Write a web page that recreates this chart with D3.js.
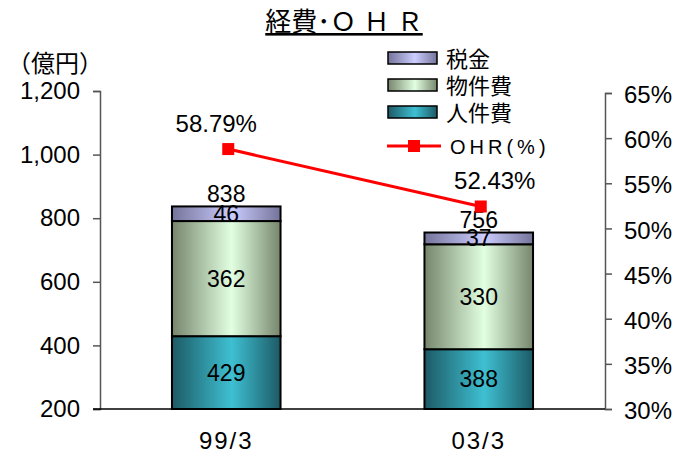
<!DOCTYPE html>
<html>
<head>
<meta charset="utf-8">
<title>経費・OHR</title>
<script src="https://cdn.jsdelivr.net/npm/d3@7"></script>
<style>
  body { margin: 0; background: #fff; }
  svg text { font-family: "Liberation Sans", Arial, "Noto Sans CJK JP", sans-serif; fill: #000; }
</style>
</head>
<body>
<div id="chart"></div>
<script>
// data
var categories = ["99/3", "03/3"];
var personnel = [429, 388];   // 人件費
var property = [362, 330];    // 物件費
var taxes = [46, 37];         // 税金
var totals = [838, 756];
var ohr = [58.79, 52.43];     // OHR(%)
var leftTicks = [200, 400, 600, 800, 1000, 1200];
var rightTicks = [30, 35, 40, 45, 50, 55, 60, 65];

var width = 685, height = 463;
var margin = {left: 100, right: 80, top: 91, bottom: 54};

var svg = d3.select("#chart").append("svg")
    .attr("width", width)
    .attr("height", height);

var defs = svg.append("defs");
function grad(id, edge, mid) {
  var g = defs.append("linearGradient").attr("id", id)
    .attr("x1", "0%").attr("x2", "100%").attr("y1", "0%").attr("y2", "0%");
  g.append("stop").attr("offset", "0%").attr("stop-color", edge);
  g.append("stop").attr("offset", "55%").attr("stop-color", mid);
  g.append("stop").attr("offset", "100%").attr("stop-color", edge);
}
grad("gTeal", "#1d5a66", "#3ec0d2");
grad("gGreen", "#76866c", "#e2ffe2");
grad("gPurple", "#74749a", "#ccccff");

var x = d3.scaleBand().domain(categories)
    .range([margin.left, width - margin.right])
    .paddingInner(0.57).paddingOuter(0.285);
var y = d3.scaleLinear().domain([200, 1200]).range([height - margin.bottom, margin.top]);
var y2 = d3.scaleLinear().domain([30, 65]).range([height - margin.bottom, margin.top + 2]);

// stacked data
var segs = [
  {key: "人件費", vals: personnel, fill: "url(#gTeal)"},
  {key: "物件費", vals: property, fill: "url(#gGreen)"},
  {key: "税金", vals: taxes, fill: "url(#gPurple)"}
];
var rows = categories.map(function(c, i) {
  return {cat: c, p: personnel[i], o: property[i], t: taxes[i]};
});
var stack = d3.stack().keys(["p", "o", "t"])(rows);

stack.forEach(function(layer, li) {
  svg.append("g").selectAll("rect").data(layer).enter().append("rect")
    .attr("x", function(d) { return x(d.data.cat); })
    .attr("width", x.bandwidth())
    .attr("y", function(d) { return y(Math.max(d[1], 200)); })
    .attr("height", function(d) { return y(Math.max(d[0], 200)) - y(Math.max(d[1], 200)); })
    .attr("fill", segs[li].fill)
    .attr("stroke", "#000")
    .attr("stroke-width", 2);
});

// segment labels
stack.forEach(function(layer, li) {
  svg.append("g").selectAll("text").data(layer).enter().append("text")
    .attr("x", function(d) { return x(d.data.cat) + x.bandwidth() / 2; })
    .attr("y", function(d) {
      var lo = Math.max(d[0], 200);
      return (y(lo) + y(d[1])) / 2 + 8;
    })
    .attr("text-anchor", "middle")
    .style("font-size", "23px")
    .text(function(d, i) { return segs[li].vals[i]; });
});

// totals
svg.append("g").selectAll("text").data(totals).enter().append("text")
  .attr("x", function(d, i) { return x(categories[i]) + x.bandwidth() / 2; })
  .attr("y", function(d) { return y(d) - 4; })
  .attr("text-anchor", "middle")
  .style("font-size", "23px")
  .text(function(d) { return d; });

// axes
var yAxis = d3.axisLeft(y).tickValues(leftTicks).tickSize(7).tickPadding(13)
  .tickFormat(d3.format(","));
var gy = svg.append("g").attr("transform", "translate(" + margin.left + ",0)").call(yAxis);
var y2Axis = d3.axisRight(y2).tickValues(rightTicks).tickSize(7).tickPadding(12)
  .tickFormat(function(d) { return d + "%"; });
var gy2 = svg.append("g").attr("transform", "translate(" + (width - margin.right) + ",0)").call(y2Axis);
[gy, gy2].forEach(function(g) {
  g.select(".domain").attr("stroke", "#555").attr("stroke-width", 1.5);
  g.selectAll(".tick line").attr("stroke", "#555").attr("stroke-width", 1.5);
  g.selectAll(".tick text").style("font-size", "24px").attr("font-family", null);
});
gy2.selectAll(".tick text").attr("dy", "0.4em");

// baseline
svg.append("line")
  .attr("x1", margin.left - 7).attr("x2", width - margin.right)
  .attr("y1", y(200)).attr("y2", y(200))
  .attr("stroke", "#000").attr("stroke-width", 1.5);

// category labels
svg.append("g").selectAll("text").data(categories).enter().append("text")
  .attr("x", function(d) { return x(d) + x.bandwidth() / 2; })
  .attr("y", 449)
  .attr("text-anchor", "middle")
  .style("font-size", "24px")
  .style("letter-spacing", "2px")
  .text(function(d) { return d; });

// OHR line
var line = d3.line()
  .x(function(d, i) { return x(categories[i]) + x.bandwidth() / 2 + 2; })
  .y(function(d) { return y2(d); });
svg.append("path").datum(ohr)
  .attr("d", line).attr("fill", "none")
  .attr("stroke", "#ff0000").attr("stroke-width", 3);
svg.append("g").selectAll("rect").data(ohr).enter().append("rect")
  .attr("x", function(d, i) { return x(categories[i]) + x.bandwidth() / 2 + 2 - 6; })
  .attr("y", function(d) { return y2(d) - 6; })
  .attr("width", 12).attr("height", 12)
  .attr("fill", "#ff0000");
svg.append("g").selectAll("text").data(ohr).enter().append("text")
  .attr("x", function(d, i) { return x(categories[i]) + x.bandwidth() / 2 + (i === 0 ? -10 : 16); })
  .attr("y", function(d) { return y2(d) - 17; })
  .attr("text-anchor", "middle")
  .style("font-size", "24px")
  .text(function(d) { return d.toFixed(2) + "%"; });

// unit label
svg.append("text").attr("x", 55).attr("y", 72)
  .attr("text-anchor", "middle")
  .style("font-size", "24px")
  .text("（億円）");

// title
svg.append("text").attr("x", 344).attr("y", 31)
  .attr("text-anchor", "middle")
  .style("font-size", "26px")
  .style("text-decoration", "underline")
  .text("経費･Ｏ Ｈ Ｒ");

// legend
var legendItems = [
  {label: "税金", fill: "url(#gPurple)"},
  {label: "物件費", fill: "url(#gGreen)"},
  {label: "人件費", fill: "url(#gTeal)"}
];
var lg = svg.append("g").attr("transform", "translate(388,50)");
legendItems.forEach(function(it, i) {
  lg.append("rect").attr("x", 0).attr("y", i * 27 + 2)
    .attr("width", 49).attr("height", 12)
    .attr("fill", it.fill).attr("stroke", "#000").attr("stroke-width", 1.5);
  lg.append("text").attr("x", 58).attr("y", i * 27 + 17)
    .style("font-size", "22px").text(it.label);
});
lg.append("line").attr("x1", -1).attr("x2", 53).attr("y1", 96).attr("y2", 96)
  .attr("stroke", "#ff0000").attr("stroke-width", 3);
lg.append("rect").attr("x", 20).attr("y", 90).attr("width", 12).attr("height", 12)
  .attr("fill", "#ff0000");
lg.append("text").attr("x", 62).attr("y", 104)
  .style("font-size", "20px").style("letter-spacing", "4px").text("OHR(%)");
</script>
</body>
</html>
